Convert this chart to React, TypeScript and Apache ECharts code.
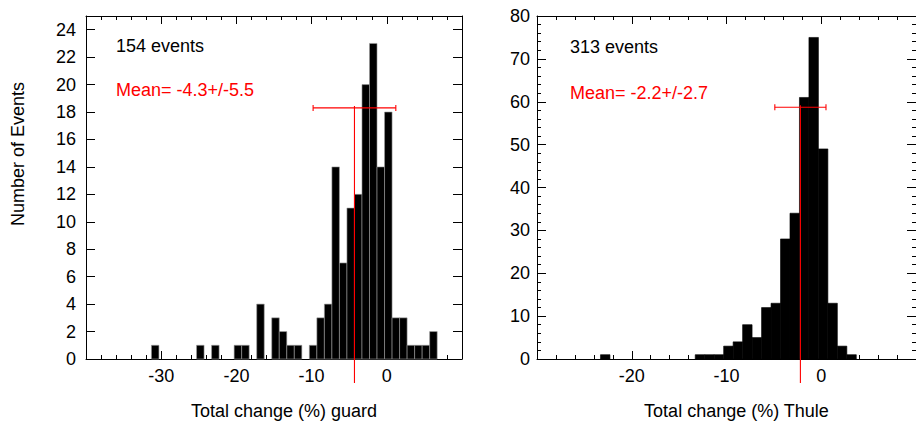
import React, { useEffect, useRef } from "react";
import * as echarts from "echarts";

// Histogram of total change (%) — guard (left panel)
const guardBinLow = [-31, -25, -23, -20, -19, -17, -15, -14, -13, -12, -10, -9, -8, -7, -6, -5, -4, -3, -2, -1, 0, 1, 2, 3, 4, 5, 6];
const guardCounts = [1, 1, 1, 1, 1, 4, 3, 2, 1, 1, 1, 3, 4, 14, 7, 11, 12, 20, 23, 14, 18, 3, 3, 1, 1, 1, 2];

// Histogram of total change (%) — Thule (right panel)
const thuleBinLow = [-23, -13, -12, -11, -10, -9, -8, -7, -6, -5, -4, -3, -2, -1, 0, 1, 2, 3];
const thuleCounts = [1, 1, 1, 1, 3, 4, 8, 5, 12, 13, 28, 34, 61, 75, 49, 13, 3, 1];

const BIN_WIDTH = 1;
const BIN_SHIFT = -0.3;

// Mean +/- sigma markers
const guardStats = { mean: -4.3, sigma: 5.5, level: 18.3 };
const thuleStats = { mean: -2.2, sigma: 2.7, level: 58.7 };

// Annotation texts
const guardEventsText = "154 events";
const guardMeanText = "Mean= -4.3+/-5.5";
const thuleEventsText = "313 events";
const thuleMeanText = "Mean= -2.2+/-2.7";
const yTitle = "Number of Events";
const guardXTitle = "Total change (%) guard";
const thuleXTitle = "Total change (%) Thule";

// Axis ranges
const guardX = { min: -40, max: 10, interval: 10 };
const guardY = { min: 0, max: 25, interval: 2 };
const thuleX = { min: -30, max: 10, interval: 10 };
const thuleY = { min: 0, max: 80, interval: 10 };

const FONT = "'Liberation Sans', Arial, Helvetica, sans-serif";

function histSeries(binLow: number[], counts: number[], axisIdx: number, stroke: string, lw: number) {
  return {
    type: "custom",
    xAxisIndex: axisIdx,
    yAxisIndex: axisIdx,
    clip: false,
    encode: { x: [0, 1], y: 2 },
    data: binLow.map((b, i) => [b + BIN_SHIFT, b + BIN_SHIFT + BIN_WIDTH, counts[i]]),
    renderItem: (_p: any, api: any) => {
      const p0 = api.coord([api.value(0), 0]);
      const p1 = api.coord([api.value(1), api.value(2)]);
      return {
        type: "rect",
        shape: { x: p0[0], y: p1[1], width: p1[0] - p0[0], height: p0[1] - p1[1] },
        style: { fill: "#000", stroke, lineWidth: lw },
      };
    },
    z: 2,
  };
}

function errSeries(st: { mean: number; sigma: number; level: number }, axisIdx: number) {
  return {
    type: "custom",
    xAxisIndex: axisIdx,
    yAxisIndex: axisIdx,
    clip: false,
    encode: { x: 0, y: 2 },
    data: [[st.mean, st.sigma, st.level]],
    renderItem: (_p: any, api: any) => {
      const m = api.value(0);
      const s = api.value(1);
      const lv = api.value(2);
      const pl = api.coord([m - s, lv]);
      const pr = api.coord([m + s, lv]);
      const pc = api.coord([m, lv]);
      const pb = api.coord([m, 0]);
      const st2 = { stroke: "#ff0000", lineWidth: 1.1 };
      return {
        type: "group",
        children: [
          { type: "line", shape: { x1: pl[0], y1: pl[1], x2: pr[0], y2: pr[1] }, style: st2 },
          { type: "line", shape: { x1: pl[0], y1: pl[1] - 3, x2: pl[0], y2: pl[1] + 3 }, style: st2 },
          { type: "line", shape: { x1: pr[0], y1: pr[1] - 3, x2: pr[0], y2: pr[1] + 3 }, style: st2 },
          { type: "line", shape: { x1: pc[0], y1: pc[1] - 2, x2: pc[0], y2: pb[1] + 24 }, style: st2 },
        ],
      };
    },
    z: 5,
  };
}

function xAxes(grid: number, r: { min: number; max: number; interval: number }, name: string) {
  const common = {
    type: "value",
    gridIndex: grid,
    min: r.min,
    max: r.max,
    interval: r.interval,
    splitLine: { show: false },
    minorSplitLine: { show: false },
    axisLine: { show: true, onZero: false, lineStyle: { color: "#000", width: 1 } },
    axisTick: { show: true, inside: true, length: 8, lineStyle: { color: "#000", width: 1 } },
    minorTick: { show: true, splitNumber: 5, length: 4, lineStyle: { color: "#000", width: 1 } },
  };
  return [
    {
      ...common,
      position: "bottom",
      axisLabel: {
        show: true,
        margin: 8,
        color: "#000",
        fontSize: 18,
        fontFamily: FONT,
        showMinLabel: false,
        showMaxLabel: false,
      },
      name,
      nameLocation: "middle",
      nameGap: 43,
      nameTextStyle: { color: "#000", fontSize: 18, fontFamily: FONT, padding: [0, 0, 0, 20] },
    },
    { ...common, position: "top", axisLabel: { show: false } },
  ];
}

function yAxes(grid: number, r: { min: number; max: number; interval: number }, minor: boolean, margin: number) {
  const common = {
    type: "value",
    gridIndex: grid,
    min: r.min,
    max: r.max,
    interval: r.interval,
    splitLine: { show: false },
    minorSplitLine: { show: false },
    axisLine: { show: true, onZero: false, lineStyle: { color: "#000", width: 1 } },
    axisTick: { show: true, inside: true, length: 9, lineStyle: { color: "#000", width: 1 } },
    minorTick: { show: minor, splitNumber: 5, length: 4, lineStyle: { color: "#000", width: 1 } },
  };
  return [
    {
      ...common,
      position: "left",
      axisLabel: {
        show: true,
        margin,
        color: "#000",
        fontSize: 18,
        fontFamily: FONT,
        showMaxLabel: r.max % r.interval === 0,
      },
    },
    { ...common, position: "right", axisLabel: { show: false } },
  ];
}

export default function App() {
  const ref = useRef<HTMLDivElement>(null);
  useEffect(() => {
    document.body.style.margin = "0";
    if (!ref.current) return;
    const chart = echarts.init(ref.current, undefined, { renderer: "svg" });
    const gx = xAxes(0, guardX, guardXTitle);
    const tx = xAxes(1, thuleX, thuleXTitle);
    const gy = yAxes(0, guardY, false, 10);
    const ty = yAxes(1, thuleY, true, 7);
    const txt = (text: string, x: number, y: number, fill: string) => ({
      type: "text",
      x,
      y,
      z: 10,
      style: { text, fill, font: `18px ${FONT}`, align: "left", verticalAlign: "middle" },
    });
    chart.setOption({
      animation: false,
      backgroundColor: "#fff",
      grid: [
        { left: 86, top: 16, width: 376, height: 347 },
        { left: 537, top: 16, width: 379, height: 347 },
      ],
      xAxis: [gx[0], gx[1], tx[0], tx[1]].map((a: any, i: number) => ({ ...a, gridIndex: i < 2 ? 0 : 1 })),
      yAxis: [gy[0], gy[1], ty[0], ty[1]].map((a: any, i: number) => ({ ...a, gridIndex: i < 2 ? 0 : 1 })),
      series: [
        histSeries(guardBinLow, guardCounts, 0, "#9a9a9a", 0.6),
        histSeries(thuleBinLow, thuleCounts, 2, "#000", 0.6),
        errSeries(guardStats, 0),
        errSeries(thuleStats, 2),
      ],
      graphic: [
        txt(guardEventsText, 116, 45.5, "#000"),
        txt(guardMeanText, 116, 90.3, "#ff0000"),
        txt(thuleEventsText, 570, 46.8, "#000"),
        txt(thuleMeanText, 570, 92.8, "#ff0000"),
        {
          type: "text",
          x: 18.3,
          y: 154,
          rotation: Math.PI / 2,
          z: 10,
          style: { text: yTitle, fill: "#000", font: `18px ${FONT}`, align: "center", verticalAlign: "middle" },
        },
      ],
    });
    return () => chart.dispose();
  }, []);
  return <div ref={ref} style={{ width: 916, height: 425 }} />;
}
